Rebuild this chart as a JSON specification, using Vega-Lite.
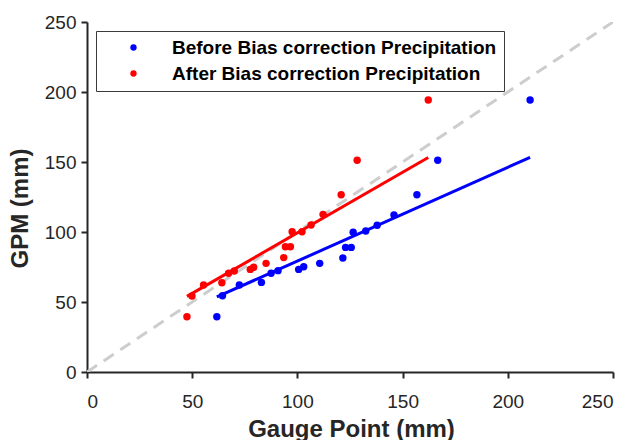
{
  "$schema": "https://vega.github.io/schema/vega-lite/v6.json",
  "width": 526,
  "height": 350,
  "autosize": {"type": "none"},
  "padding": {"left": 87, "top": 22, "right": 20, "bottom": 68},
  "background": "white",
  "config": {
    "view": {"stroke": null},
    "font": "Liberation Sans",
    "axis": {
      "grid": false,
      "domainColor": "#262626",
      "domainWidth": 2,
      "tickColor": "#262626",
      "tickWidth": 2,
      "tickSize": 6,
      "labelFont": "Liberation Sans",
      "labelFontSize": 19,
      "labelColor": "#262626",
      "titleFont": "Liberation Sans",
      "titleFontSize": 24,
      "titleFontWeight": "bold",
      "titleColor": "#262626"
    }
  },
  "datasets": {
    "points": [
      {"series": "Before Bias correction Precipitation", "gauge": 210.6, "gpm": 194.3},
      {"series": "Before Bias correction Precipitation", "gauge": 166.7, "gpm": 151.2},
      {"series": "Before Bias correction Precipitation", "gauge": 156.8, "gpm": 126.6},
      {"series": "Before Bias correction Precipitation", "gauge": 145.9, "gpm": 112.1},
      {"series": "Before Bias correction Precipitation", "gauge": 137.9, "gpm": 104.8},
      {"series": "Before Bias correction Precipitation", "gauge": 132.5, "gpm": 100.7},
      {"series": "Before Bias correction Precipitation", "gauge": 126.5, "gpm": 99.8},
      {"series": "Before Bias correction Precipitation", "gauge": 122.9, "gpm": 89.0},
      {"series": "Before Bias correction Precipitation", "gauge": 125.6, "gpm": 89.0},
      {"series": "Before Bias correction Precipitation", "gauge": 121.6, "gpm": 81.4},
      {"series": "Before Bias correction Precipitation", "gauge": 110.6, "gpm": 77.6},
      {"series": "Before Bias correction Precipitation", "gauge": 103.0, "gpm": 75.2},
      {"series": "Before Bias correction Precipitation", "gauge": 100.6, "gpm": 73.3},
      {"series": "Before Bias correction Precipitation", "gauge": 90.8, "gpm": 72.4},
      {"series": "Before Bias correction Precipitation", "gauge": 87.5, "gpm": 70.5},
      {"series": "Before Bias correction Precipitation", "gauge": 82.9, "gpm": 64.0},
      {"series": "Before Bias correction Precipitation", "gauge": 72.4, "gpm": 62.1},
      {"series": "Before Bias correction Precipitation", "gauge": 64.4, "gpm": 54.5},
      {"series": "Before Bias correction Precipitation", "gauge": 61.7, "gpm": 39.5},
      {"series": "After Bias correction Precipitation", "gauge": 162.2, "gpm": 194.3},
      {"series": "After Bias correction Precipitation", "gauge": 128.4, "gpm": 151.2},
      {"series": "After Bias correction Precipitation", "gauge": 120.8, "gpm": 126.6},
      {"series": "After Bias correction Precipitation", "gauge": 112.2, "gpm": 112.6},
      {"series": "After Bias correction Precipitation", "gauge": 106.5, "gpm": 105.0},
      {"series": "After Bias correction Precipitation", "gauge": 102.2, "gpm": 100.2},
      {"series": "After Bias correction Precipitation", "gauge": 97.5, "gpm": 100.2},
      {"series": "After Bias correction Precipitation", "gauge": 96.7, "gpm": 89.5},
      {"series": "After Bias correction Precipitation", "gauge": 94.3, "gpm": 89.5},
      {"series": "After Bias correction Precipitation", "gauge": 93.5, "gpm": 81.7},
      {"series": "After Bias correction Precipitation", "gauge": 85.1, "gpm": 77.6},
      {"series": "After Bias correction Precipitation", "gauge": 79.2, "gpm": 74.8},
      {"series": "After Bias correction Precipitation", "gauge": 77.6, "gpm": 73.3},
      {"series": "After Bias correction Precipitation", "gauge": 70.0, "gpm": 72.1},
      {"series": "After Bias correction Precipitation", "gauge": 67.3, "gpm": 70.5},
      {"series": "After Bias correction Precipitation", "gauge": 64.1, "gpm": 63.8},
      {"series": "After Bias correction Precipitation", "gauge": 55.4, "gpm": 62.1},
      {"series": "After Bias correction Precipitation", "gauge": 49.9, "gpm": 54.3},
      {"series": "After Bias correction Precipitation", "gauge": 47.5, "gpm": 39.5}
    ],
    "fits": [
      {"series": "Before Bias correction Precipitation", "gauge": 61.7, "gpm": 53.6},
      {"series": "Before Bias correction Precipitation", "gauge": 210.6, "gpm": 153.3},
      {"series": "After Bias correction Precipitation", "gauge": 47.5, "gpm": 54.0},
      {"series": "After Bias correction Precipitation", "gauge": 162.2, "gpm": 153.2}
    ],
    "ref": [
      {"gauge": 0, "gpm": 0},
      {"gauge": 250, "gpm": 250}
    ]
  },
  "layer": [
    {
      "data": {"name": "ref"},
      "mark": {"type": "line", "color": "#cdcdcd", "strokeWidth": 3, "strokeDash": [12, 8], "clip": true},
      "encoding": {
        "x": {"field": "gauge", "type": "quantitative", "scale": {"domain": [0, 250], "nice": false},
              "axis": {"values": [0, 50, 100, 150, 200, 250], "title": "Gauge Point (mm)", "labelPadding": 14, "titleX": 264, "titleY": 64, "titleBaseline": "alphabetic",
                       "encode": {"ticks": {"update": {"y2": {"value": -6}}}}}},
        "y": {"field": "gpm", "type": "quantitative", "scale": {"domain": [0, 250], "nice": false},
              "axis": {"values": [0, 50, 100, 150, 200, 250], "title": "GPM (mm)", "labelPadding": 5, "titleAngle": -90, "titleX": -60, "titleY": 186, "titleAlign": "center", "titleBaseline": "alphabetic",
                       "encode": {"ticks": {"update": {"x2": {"value": 6}}}}}}
      }
    },
    {
      "data": {"name": "fits"},
      "transform": [{"filter": "datum.series === 'Before Bias correction Precipitation'"}],
      "mark": {"type": "line", "strokeWidth": 3, "color": "#0000ff"},
      "encoding": {
        "x": {"field": "gauge", "type": "quantitative"},
        "y": {"field": "gpm", "type": "quantitative"}
      }
    },
    {
      "data": {"name": "fits"},
      "transform": [{"filter": "datum.series === 'After Bias correction Precipitation'"}],
      "mark": {"type": "line", "strokeWidth": 3, "color": "#ff0000"},
      "encoding": {
        "x": {"field": "gauge", "type": "quantitative"},
        "y": {"field": "gpm", "type": "quantitative"}
      }
    },
    {
      "data": {"name": "points"},
      "mark": {"type": "circle", "size": 55, "opacity": 1},
      "encoding": {
        "x": {"field": "gauge", "type": "quantitative"},
        "y": {"field": "gpm", "type": "quantitative"},
        "color": {"field": "series", "type": "nominal",
                  "scale": {"domain": ["Before Bias correction Precipitation", "After Bias correction Precipitation"], "range": ["#0000ff", "#ff0000"]},
                  "legend": {
                    "title": null,
                    "orient": "none",
                    "legendX": 9,
                    "legendY": 9,
                    "fillColor": "white",
                    "strokeColor": "#3a3a3a",
                    "padding": 7,
                    "rowPadding": 6,
                    "symbolType": "circle",
                    "symbolSize": 40,
                    "symbolOffset": 21,
                    "labelOffset": 29,
                    "labelFont": "Liberation Sans",
                    "labelFontSize": 19,
                    "labelFontWeight": "bold",
                    "labelColor": "black",
                    "labelLimit": 400
                  }}
      }
    }
  ]
}
